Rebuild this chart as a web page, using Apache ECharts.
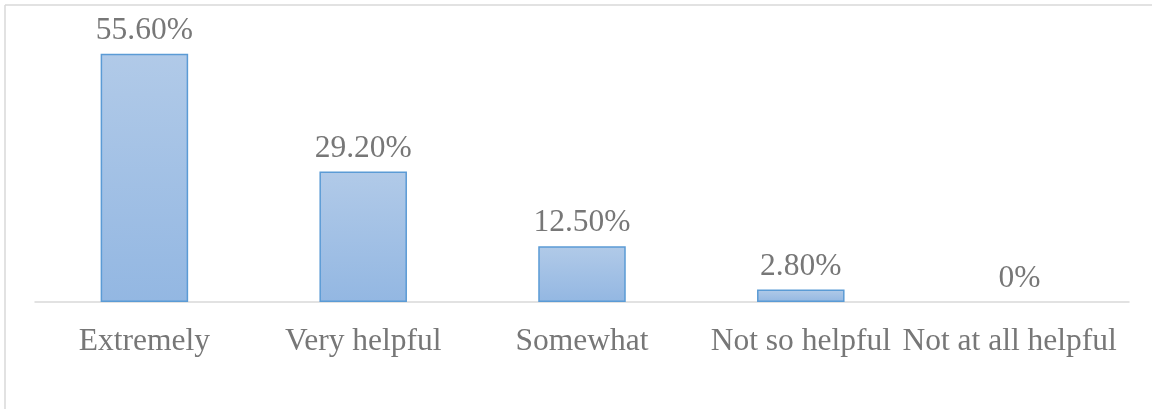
<!DOCTYPE html>
<html>
<head>
<meta charset="utf-8">
<script src="https://cdn.jsdelivr.net/npm/echarts@6/dist/echarts.min.js"></script>
<style>
html,body{margin:0;padding:0;background:#fff;}
#chart{width:1152px;height:409px;}
</style>
</head>
<body>
<div id="chart"></div>
<script>
var categories = ['Extremely', 'Very helpful', 'Somewhat', 'Not so helpful', 'Not at all helpful'];
var values = [55.6, 29.2, 12.5, 2.8, 0];

var chart = echarts.init(document.getElementById('chart'));
var font = '"Liberation Serif", "Times New Roman", serif';
chart.setOption({
  animation: false,
  grid: { left: 35, right: 23, top: 34, bottom: 107, containLabel: false },
  graphic: [
    { type: 'line', shape: { x1: 5, y1: 5, x2: 1152, y2: 5 }, style: { stroke: '#d9d9d9', lineWidth: 1.5 } },
    { type: 'line', shape: { x1: 5, y1: 5, x2: 5, y2: 409 }, style: { stroke: '#d9d9d9', lineWidth: 1.5 } }
  ],
  xAxis: {
    type: 'category',
    data: categories,
    axisLine: { show: true, lineStyle: { color: '#d9d9d9', width: 1.5 } },
    axisTick: { show: false },
    axisLabel: {
      color: '#777777', fontFamily: font, fontSize: 31.5, margin: 24, interval: 0,
      formatter: function (v, i) { return i === categories.length - 1 ? '{last|' + v + '}' : v; },
      rich: { last: { color: '#777777', fontFamily: font, fontSize: 31.5, padding: [0, 20, 0, 0] } }
    }
  },
  yAxis: {
    type: 'value', min: 0, max: 60, show: false,
    splitLine: { show: false }
  },
  series: [{
    type: 'bar',
    data: values.map(function (v) {
      return v === 0 ? { value: v, itemStyle: { borderWidth: 0, opacity: 0 }, label: { opacity: 1 } } : v;
    }),
    barWidth: '40%',
    itemStyle: {
      color: new echarts.graphic.LinearGradient(0, 0, 0, 1, [
        { offset: 0, color: '#b1cae8' },
        { offset: 1, color: '#93b7e2' }
      ]),
      borderColor: '#5b9bd5',
      borderWidth: 1.5
    },
    label: {
      show: true,
      position: 'top',
      distance: 7,
      color: '#777777',
      fontFamily: font,
      fontSize: 31.5,
      formatter: function (p) { return p.value === 0 ? '0%' : p.value.toFixed(2) + '%'; }
    }
  }]
});
</script>
</body>
</html>
